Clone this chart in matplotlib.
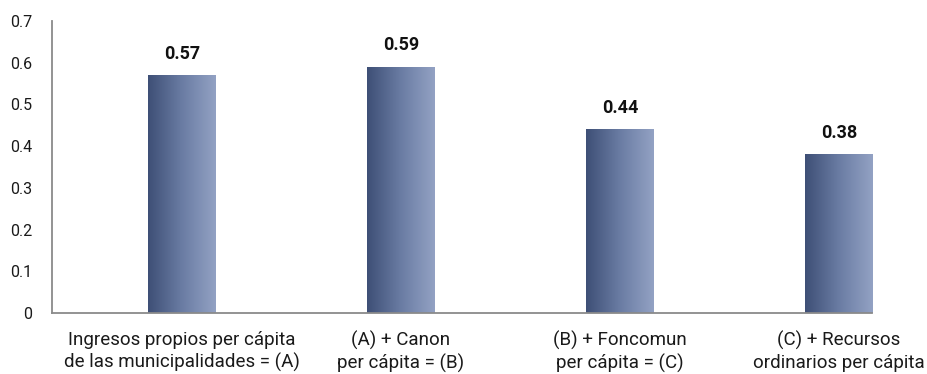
import numpy as np
import matplotlib
matplotlib.use("Agg")
import matplotlib.pyplot as plt
from matplotlib.colors import LinearSegmentedColormap

categories = [
    "Ingresos propios per cápita\nde las municipalidades = (A)",
    "(A) + Canon\nper cápita = (B)",
    "(B) + Foncomun\nper cápita = (C)",
    "(C) + Recursos\nordinarios per cápita",
]
values = [0.57, 0.59, 0.44, 0.38]
value_labels = ["0.57", "0.59", "0.44", "0.38"]
yticks = [0, 0.1, 0.2, 0.3, 0.4, 0.5, 0.6, 0.7]
ytick_labels = ["0", "0.1", "0.2", "0.3", "0.4", "0.5", "0.6", "0.7"]

plt.rcParams["font.family"] = ["Roboto", "DejaVu Sans"]

fig = plt.figure(figsize=(9.28, 3.74), dpi=100)
ax = fig.add_axes([0.056, 0.163, 0.8837, 0.781])

x = np.arange(len(categories))
bars = ax.bar(x, values, width=0.306, facecolor="none", edgecolor="none", zorder=2)

# horizontal gradient fill for each bar, clipped to its rectangle
cmap = LinearSegmentedColormap.from_list("barfill", ["#3e4f76", "#6a7ca3", "#93a2c4"])
grad = np.linspace(0, 1, 256).reshape(1, -1)
for rect in bars:
    x0, y0 = rect.get_x(), rect.get_y()
    w, h = rect.get_width(), rect.get_height()
    im = ax.imshow(grad, cmap=cmap, aspect="auto",
                   extent=(x0, x0 + w, y0, y0 + h), zorder=2,
                   interpolation="bilinear")
    im.set_clip_path(rect)

for xi, v, lab in zip(x, values, value_labels):
    ax.annotate(lab, (xi, v), xytext=(0, 9), textcoords="offset points",
                ha="center", va="bottom", fontsize=13, fontweight="semibold",
                color="#111111")

ax.set_xlim(-0.593, 3.151)
ax.set_ylim(0, 0.7)
ax.set_yticks(yticks)
ax.set_yticklabels(ytick_labels)
ax.set_xticks(x)
ax.set_xticklabels(categories, linespacing=1.25)
ax.tick_params(axis="y", length=0, pad=14, labelsize=11.5, labelcolor="#1a1a1a")
ax.tick_params(axis="x", length=0, pad=13, labelsize=13.5, labelcolor="#1a1a1a")

for side in ("top", "right"):
    ax.spines[side].set_visible(False)
for side in ("left", "bottom"):
    ax.spines[side].set_color("#8a8a8a")
    ax.spines[side].set_linewidth(1.3)
    ax.spines[side].set_zorder(3)

fig.savefig("out.png", dpi=100)
